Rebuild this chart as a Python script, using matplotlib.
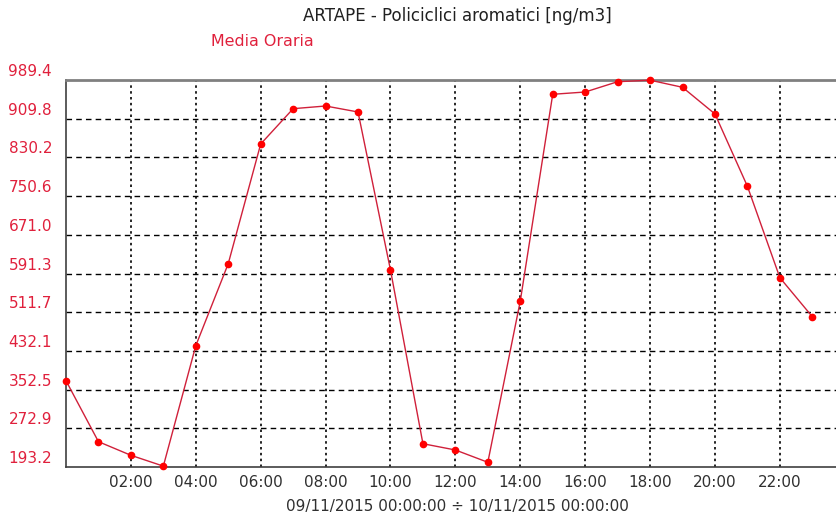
import matplotlib
matplotlib.use('Agg')
import matplotlib.pyplot as plt
from matplotlib.transforms import ScaledTranslation

# ---- data ----
hours = list(range(24))
values = [370.7, 245.3, 217.3, 195.0, 442.8, 611.5, 857.7, 930.4, 935.9, 923.6,
          598.5, 241.1, 228.2, 202.9, 534.7, 960.0, 964.7, 985.9, 989.0, 974.4,
          919.5, 770.7, 582.7, 502.4]
y_ticks = [193.2, 272.9, 352.5, 432.1, 511.7, 591.3, 671.0, 750.6, 830.2, 909.8, 989.4]
y_labels = ['193.2', '272.9', '352.5', '432.1', '511.7', '591.3', '671.0',
            '750.6', '830.2', '909.8', '989.4']
x_ticks = [2, 4, 6, 8, 10, 12, 14, 16, 18, 20, 22]
x_labels = ['02:00', '04:00', '06:00', '08:00', '10:00', '12:00', '14:00',
            '16:00', '18:00', '20:00', '22:00']
title = 'ARTAPE - Policiclici aromatici [ng/m3]'
series_name = 'Media Oraria'
period = '09/11/2015 00:00:00 \u00f7 10/11/2015 00:00:00'

plt.rcParams['font.family'] = ['DejaVu Sans']

W, H = 836, 517
fig = plt.figure(figsize=(W / 100, H / 100), dpi=100)
ax = fig.add_axes([66 / W, (H - 467) / H, (W - 66) / W, 387 / H])

ax.plot(hours, values, color='#d0203a', lw=1.0, marker='o', ms=4.5,
        mfc='#ff0000', mec='#ff0000', zorder=3, clip_on=False)

ax.set_xlim(0, 23.73)
ax.set_ylim(193.2, 989.4)

# grid lines
for yv in y_ticks[1:-1]:
    ax.axhline(yv, color='black', lw=1.0, ls=(0, (4, 3)), zorder=1)
for xv in x_ticks:
    ax.axvline(xv, color='black', lw=1.2, ls=(0, (1.5, 2)), zorder=1)

ax.set_yticks(y_ticks)
ax.set_yticklabels(y_labels)
ax.set_xticks(x_ticks)
ax.set_xticklabels(x_labels)
ax.tick_params(axis='y', length=0, pad=10, labelsize=11, labelcolor='#e0203c')
ax.tick_params(axis='x', length=0, pad=6, labelsize=11, labelcolor='#303030')
off = ScaledTranslation(0, 10 / 100, fig.dpi_scale_trans)
for lab in ax.get_yticklabels():
    lab.set_transform(lab.get_transform() + off)

for s in ['left', 'bottom']:
    ax.spines[s].set_color('#404040')
    ax.spines[s].set_linewidth(1.2)
ax.spines['top'].set_color('#808080')
ax.spines['top'].set_linewidth(2.0)
ax.spines['right'].set_visible(False)

fig.text(457 / W, 1 - 16 / H, title, ha='center', va='center', fontsize=12, color='#202020')
fig.text(262 / W, 1 - 42 / H, series_name, ha='center', va='center', fontsize=11.4, color='#e0203c')
fig.text(457 / W, 1 - 507 / H, period, ha='center', va='center', fontsize=11, color='#303030')

fig.savefig('out.png', dpi=100)
